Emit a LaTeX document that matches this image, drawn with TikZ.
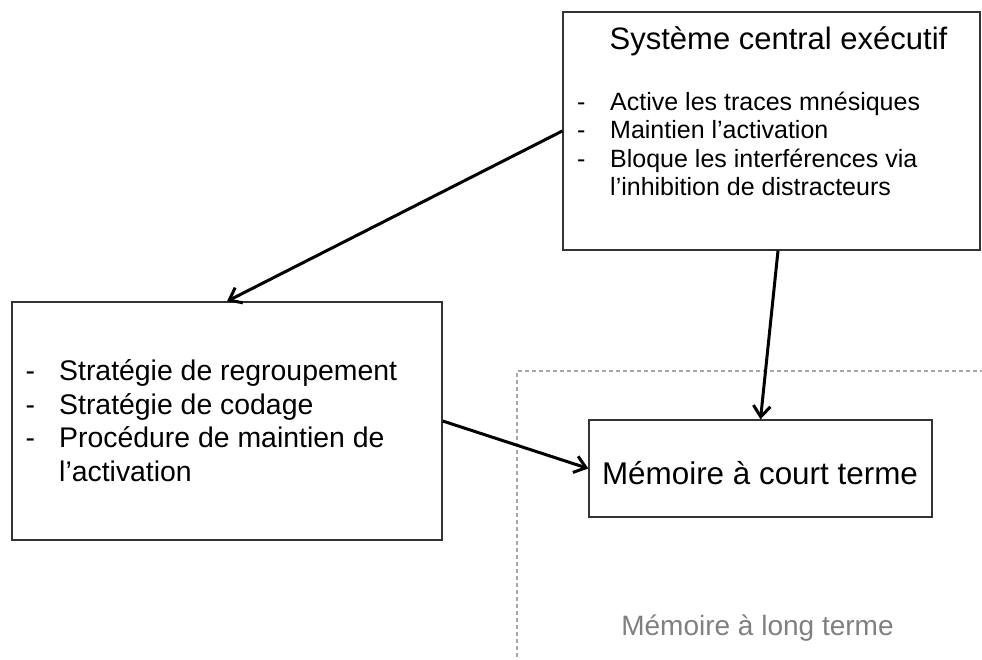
\documentclass[tikz,border=0pt]{standalone}
\usepackage{fontspec}
\setmainfont{Liberation Sans}
\usetikzlibrary{arrows.meta,shadows}
\begin{document}
\begin{tikzpicture}[x=1pt,y=-1pt,
  box/.style={draw=black!80, line width=1.4pt, fill=white, inner sep=0pt, rectangle,
    drop shadow={shadow xshift=1.3pt, shadow yshift=-1.3pt, opacity=0.25}},
  link/.style={line width=3pt, -{Straight Barb[length=11pt,width=17pt]}},
  txt/.style={inner sep=0pt, anchor=base west}
]
\useasboundingbox (0,0) rectangle (982,659);

% long-term memory region (open to the right and bottom)
\draw[black!35, line width=1.1pt, dash pattern=on 4pt off 3pt]
  (984,371) -- (517,371) -- (517,662);
\node[inner sep=0pt, anchor=base, text=black!50, font=\fontsize{28}{33}\selectfont]
  (mlt) at (757.5,635) {Mémoire à long terme};

% boxes
\node[box, minimum width=417pt, minimum height=238pt] (sce) at (771.5,131) {};
\node[box, minimum width=430pt, minimum height=238pt] (strat) at (227,421) {};
\node[box, minimum width=343pt, minimum height=97pt] (mct) at (760.5,468.5) {};

% box contents
\node[inner sep=0pt, anchor=base, font=\fontsize{31}{36}\selectfont]
  (sceTitle) at (778.5,49.5) {Système central exécutif};
\node[txt, font=\fontsize{25}{28.2}\selectfont] (sceList) at (577,110.7)
  {\begin{tabular}[t]{@{}p{33pt}@{}l@{}}
   - & Active les traces mnésiques\\
   - & Maintien l’activation\\
   - & Bloque les interférences via\\
     & l’inhibition de distracteurs
   \end{tabular}};
\node[txt, font=\fontsize{28.4}{33.6}\selectfont] (stratList) at (25.5,380.7)
  {\begin{tabular}[t]{@{}p{33.5pt}@{}l@{}}
   - & Stratégie de regroupement\\
   - & Stratégie de codage\\
   - & Procédure de maintien de\\
     & l’activation
   \end{tabular}};
\node[inner sep=0pt, anchor=base, font=\fontsize{31.4}{36}\selectfont]
  (mctText) at (760,484) {Mémoire à court terme};

% connectors
\draw[link] (sce.west) -- (strat.north);
\draw[link] ([xshift=6.5pt]sce.south) -- (mct.north);
\draw[link] (strat.east) -- (mct.west);
\end{tikzpicture}
\end{document}
